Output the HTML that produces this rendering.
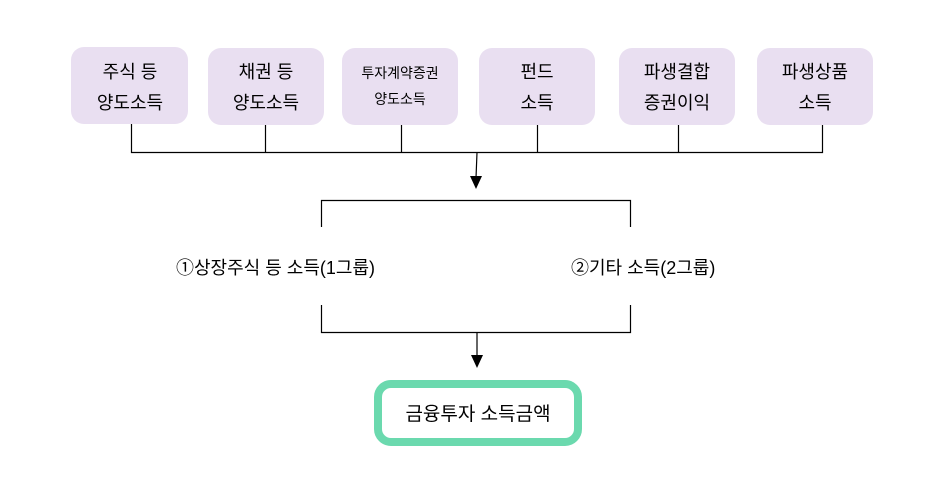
<!DOCTYPE html>
<html><head><meta charset="utf-8"><style>
html,body{margin:0;padding:0;background:#fff;}
svg{display:block;}
text{font-family:"Liberation Sans","Noto Sans CJK KR",sans-serif;fill:#000;}
</style></head><body>
<svg width="936" height="504" viewBox="0 0 936 504" xmlns="http://www.w3.org/2000/svg">
<g fill="#e9dff1">
<rect x="71" y="47" width="117" height="77" rx="13"/>
<rect x="208" y="48" width="116" height="77" rx="13"/>
<rect x="342" y="48" width="116" height="77" rx="13"/>
<rect x="479" y="48" width="116" height="77" rx="13"/>
<rect x="619" y="48" width="116" height="77" rx="13"/>
<rect x="757" y="48" width="116" height="77" rx="13"/>
</g>
<g font-size="18" text-anchor="middle">
<text x="130" y="78">주식 등</text><text x="130" y="109">양도소득</text>
<text x="266" y="78">채권 등</text><text x="266" y="109">양도소득</text>
<text x="537" y="78">펀드</text><text x="537" y="109">소득</text>
<text x="677" y="78">파생결합</text><text x="677" y="109">증권이익</text>
<text x="815" y="78">파생상품</text><text x="815" y="109">소득</text>
</g>
<g font-size="14" text-anchor="middle">
<text x="400" y="78">투자계약증권</text><text x="400" y="104">양도소득</text>
</g>
<g stroke="#000" stroke-width="1.2" fill="none">
<path d="M131.5 124V152.5H822.5V125"/>
<path d="M265.5 125V152.5M401.5 125V152.5M537.5 125V152.5M678.5 125V152.5"/>
<path d="M477 152.5L476 178"/>
<path d="M321.5 227V200.5H630.5V227"/>
<path d="M321.5 305V332.5H630.5V305"/>
<path d="M477 332.5V356"/>
</g>
<polygon points="470,176 482,176 476,189" fill="#000"/>
<polygon points="471,355 483,355 477,368" fill="#000"/>
<g font-size="18">
<text x="176" y="274">①상장주식 등 소득(1그룹)</text>
<text x="571" y="274">②기타 소득(2그룹)</text>
</g>
<rect x="378" y="384" width="200" height="58" rx="13" fill="#fff" stroke="#6bd9ae" stroke-width="8"/>
<text x="478" y="420" font-size="19" text-anchor="middle">금융투자 소득금액</text>
</svg>
</body></html>
